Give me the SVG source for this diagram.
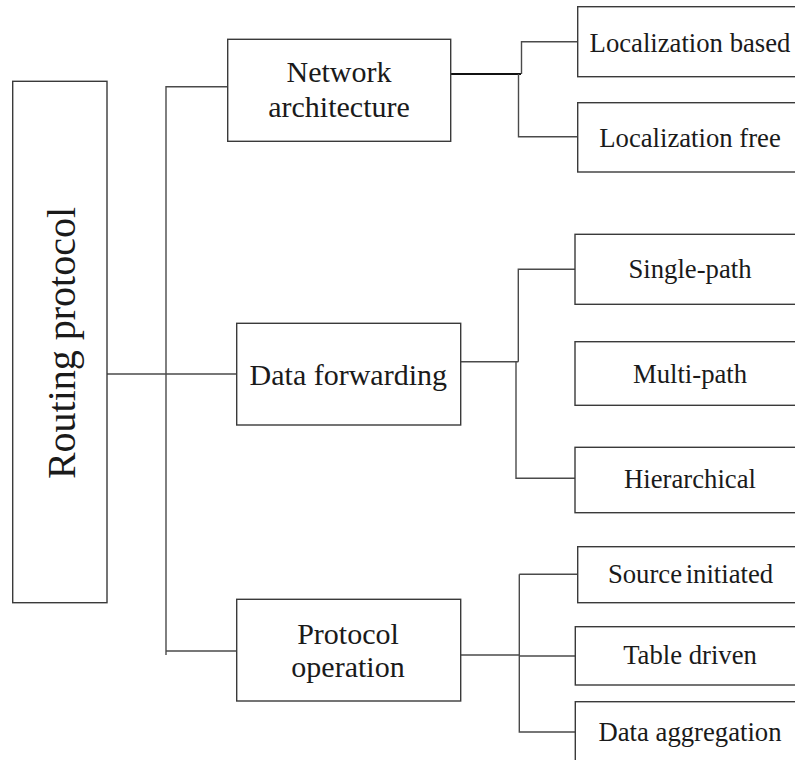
<svg xmlns="http://www.w3.org/2000/svg" width="795" height="760" viewBox="0 0 795 760">
  <style>
    .box { fill: #ffffff; stroke: #3a3a3a; stroke-width: 1.4; }
    .lbl { font-family: 'Liberation Serif', 'Times New Roman', serif; fill: #1a1a1a; text-anchor: middle; }
    .root { font-size: 40px; }
    .mid { font-size: 30px; }
    .leaf { font-size: 26.7px; }
    .wire { fill: none; stroke: #4a4a4a; stroke-width: 1.4; }
    .wire-bold { fill: none; stroke: #111111; stroke-width: 2; }
  </style>
  <rect width="795" height="760" fill="#ffffff"/>

  <!-- connectors -->
  <g id="connectors">
    <!-- root to spine and level-1 branches -->
    <path class="wire" d="M107 374 H237"/>
    <path class="wire" d="M166 655 V86.7 H228"/>
    <path class="wire" d="M166 651 H237"/>
    <!-- network architecture branches -->
    <path class="wire-bold" d="M451 74 H521"/>
    <path class="wire" d="M521.5 74 V41.7 H578"/>
    <path class="wire" d="M518.5 74 V136.7 H578"/>
    <!-- data forwarding branches -->
    <path class="wire" d="M460.5 361.7 H518.3"/>
    <path class="wire" d="M518.3 361.7 V269.3 H575"/>
    <path class="wire" d="M516 361.7 V478.3 H575"/>
    <!-- protocol operation branches -->
    <path class="wire" d="M460.5 655 H519.3"/>
    <path class="wire" d="M519.3 574.3 V732 H575"/>
    <path class="wire" d="M519.3 574.3 H578"/>
    <path class="wire" d="M519.3 656 H575"/>
  </g>

  <!-- root -->
  <g id="routing-protocol">
    <rect class="box" x="12.7" y="81.3" width="94.3" height="521.4"/>
    <text class="lbl root" transform="translate(75 343) rotate(-90)" x="0" y="0">Routing protocol</text>
  </g>

  <!-- level 1 -->
  <g id="network-architecture">
    <rect class="box" x="227.7" y="39.3" width="223" height="102"/>
    <text class="lbl mid" x="339" y="81.7">Network</text>
    <text class="lbl mid" x="339" y="116.7">architecture</text>
  </g>
  <g id="data-forwarding">
    <rect class="box" x="236.7" y="323.3" width="224" height="101.7"/>
    <text class="lbl mid" x="348.3" y="385">Data forwarding</text>
  </g>
  <g id="protocol-operation">
    <rect class="box" x="236.7" y="599.3" width="224" height="101.7"/>
    <text class="lbl mid" x="348" y="644.3">Protocol</text>
    <text class="lbl mid" x="348" y="677.3">operation</text>
  </g>

  <!-- level 2 (boxes run past the right edge) -->
  <g id="localization-based">
    <rect class="box" x="577.7" y="6.7" width="230" height="70"/>
    <text class="lbl leaf" x="690" y="51.7">Localization based</text>
  </g>
  <g id="localization-free">
    <rect class="box" x="577.7" y="102.7" width="230" height="69.3"/>
    <text class="lbl leaf" x="690" y="146.7">Localization free</text>
  </g>
  <g id="single-path">
    <rect class="box" x="575" y="234.3" width="230" height="70"/>
    <text class="lbl leaf" x="690" y="278.3">Single-path</text>
  </g>
  <g id="multi-path">
    <rect class="box" x="575" y="341.7" width="230" height="63.6"/>
    <text class="lbl leaf" x="690" y="383.3">Multi-path</text>
  </g>
  <g id="hierarchical">
    <rect class="box" x="575" y="447.3" width="230" height="65.4"/>
    <text class="lbl leaf" x="690" y="488.3">Hierarchical</text>
  </g>
  <g id="source-initiated">
    <rect class="box" x="577.7" y="546.7" width="230" height="56"/>
    <text class="lbl leaf" x="690.5" y="583.3" word-spacing="-3">Source initiated</text>
  </g>
  <g id="table-driven">
    <rect class="box" x="575.3" y="626.7" width="230" height="58.3"/>
    <text class="lbl leaf" x="690" y="664">Table driven</text>
  </g>
  <g id="data-aggregation">
    <rect class="box" x="575.3" y="701.7" width="230" height="80"/>
    <text class="lbl leaf" x="690" y="740.7">Data aggregation</text>
  </g>
</svg>
